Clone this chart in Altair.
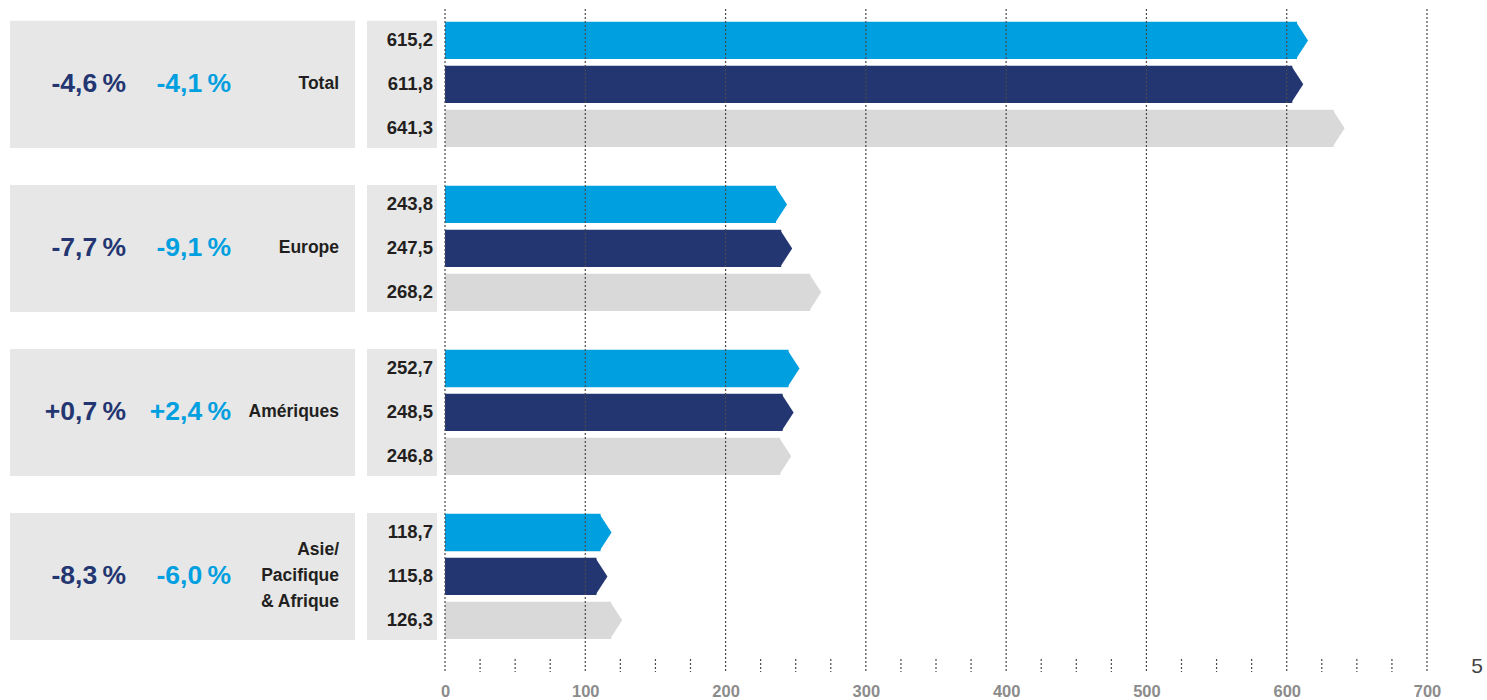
import altair as alt
import pandas as pd

# ---- data ----
region_keys = ["Total", "Europe", "Amériques", "APA"]
region_labels = ["Total", "Europe", "Amériques", "Asie/\nPacifique\n& Afrique"]
pct_dark = ["-4,6\u2009%", "-7,7\u2009%", "+0,7\u2009%", "-8,3\u2009%"]
pct_light = ["-4,1\u2009%", "-9,1\u2009%", "+2,4\u2009%", "-6,0\u2009%"]
series = ["A", "B", "C"]
vals_a = [615.2, 243.8, 252.7, 118.7]
vals_b = [611.8, 247.5, 248.5, 115.8]
vals_c = [641.3, 268.2, 246.8, 126.3]
grid_values = [0, 100, 200, 300, 400, 500, 600, 700]
minor_values = [25, 50, 75, 125, 150, 175, 225, 250, 275, 325, 350, 375,
                425, 450, 475, 525, 550, 575, 625, 650, 675]

C_LIGHT = "#009fe0"
C_NAVY = "#233671"
C_GRAY = "#d9d9d9"
BOX = "#e7e7e7"
TXT = "#231f20"
FONT = "Liberation Sans, Arial, sans-serif"

H = 663

rows = []
for i, k in enumerate(region_keys):
    for s, v in zip(series, [vals_a[i], vals_b[i], vals_c[i]]):
        rows.append({"region": k, "series": s, "value": v,
                     "label": f"{v:.1f}".replace(".", ",")})
bars_df = pd.DataFrame(rows)

reg_df = pd.DataFrame({"region": region_keys, "name": region_labels,
                       "p1": pct_dark, "p2": pct_light})

yscale = alt.Scale(domain=region_keys, paddingInner=0.2256, paddingOuter=0.134, align=0.27)
Y = alt.Y("region:N", scale=yscale, axis=None)
YO = alt.YOffset("series:N", scale=alt.Scale(domain=series, paddingInner=0.15, paddingOuter=0.02))

# ---- left panel ----
lbase = alt.Chart(reg_df)
l_rect = lbase.mark_rect(color=BOX).encode(y=Y, x=alt.value(0), x2=alt.value(345))
l_p1 = lbase.mark_text(align="right", baseline="middle", font=FONT, fontWeight="bold",
                       fontSize=26.5, color=C_NAVY).encode(y=Y, x=alt.value(116), text="p1:N")
l_p2 = lbase.mark_text(align="right", baseline="middle", font=FONT, fontWeight="bold",
                       fontSize=26.5, color=C_LIGHT).encode(y=Y, x=alt.value(221), text="p2:N")
l_name1 = lbase.transform_filter("indexof(datum.name, '\\n') < 0").mark_text(
    align="right", baseline="middle", font=FONT, fontWeight="bold",
    fontSize=17.5, color=TXT).encode(y=Y, x=alt.value(329), text="name:N")
l_name3 = lbase.transform_filter("indexof(datum.name, '\\n') >= 0").mark_text(
    align="right", baseline="middle", font=FONT, fontWeight="bold",
    fontSize=17.5, color=TXT, lineBreak="\n", lineHeight=26, dy=-26).encode(
    y=Y, x=alt.value(329), text="name:N")
left = alt.layer(l_rect, l_p1, l_p2, l_name1, l_name3).properties(width=357, height=H)

# ---- middle panel (value labels) ----
m_rect = lbase.mark_rect(color=BOX).encode(y=Y, x=alt.value(0), x2=alt.value(70))
m_txt = alt.Chart(bars_df).mark_text(align="right", baseline="middle", font=FONT,
                                     fontWeight="bold", fontSize=18.5, color=TXT).encode(
    y=Y, yOffset=YO, x=alt.value(66), text="label:N")
mid = alt.layer(m_rect, m_txt).properties(width=78, height=H)

# ---- right panel (bars) ----
X = alt.X("value:Q", stack=None, scale=alt.Scale(domain=[0, 700], nice=False),
          axis=alt.Axis(values=grid_values, grid=False, ticks=False, domain=False,
                        labelFont=FONT, labelFontWeight="bold", labelFontSize=16.5,
                        labelColor="#8c8c8c", labelPadding=11, labelFlush=False, title=None))
color = alt.Color("series:N", scale=alt.Scale(domain=series, range=[C_LIGHT, C_NAVY, C_GRAY]),
                  legend=None)
bbase = alt.Chart(bars_df)
r_bar = bbase.mark_bar(xOffset=-11, cornerRadius=0).encode(
    y=Y, yOffset=YO, x=X, x2=alt.datum(0), color=color)
r_tip = bbase.mark_point(shape="M-0.65,-1L0,0L-0.65,1Z", filled=True, size=1369,
                         opacity=1, strokeWidth=0).encode(
    y=Y, yOffset=YO, x=alt.X("value:Q", stack=None), color=color)
grid_df = pd.DataFrame({"v": grid_values})
minor_df = pd.DataFrame({"v": minor_values})
r_grid = alt.Chart(grid_df).mark_rule(color="#4a4a4a", strokeDash=[2, 2], strokeWidth=1.2).encode(
    x=alt.X("v:Q"))
r_minor = alt.Chart(minor_df).mark_rule(color="#4a4a4a", strokeDash=[2, 2], strokeWidth=1.2).encode(
    x=alt.X("v:Q"), y=alt.value(H - 13), y2=alt.value(H))
page = alt.Chart(pd.DataFrame({"t": ["5"]})).mark_text(
    align="right", baseline="middle", font="Liberation Sans, sans-serif", fontSize=21,
    color="#444444").encode(x=alt.value(1038), y=alt.value(658), text="t:N")
right = alt.layer(r_bar, r_tip, r_grid, r_minor, page).properties(width=982, height=H)

chart = alt.hconcat(left, mid, right, spacing=0, bounds="flush").properties(
    padding={"left": 10, "top": 8, "right": 0, "bottom": 0}
).configure_view(strokeWidth=0)

chart.save("out.html", embed_options={"renderer": "svg", "actions": False})
